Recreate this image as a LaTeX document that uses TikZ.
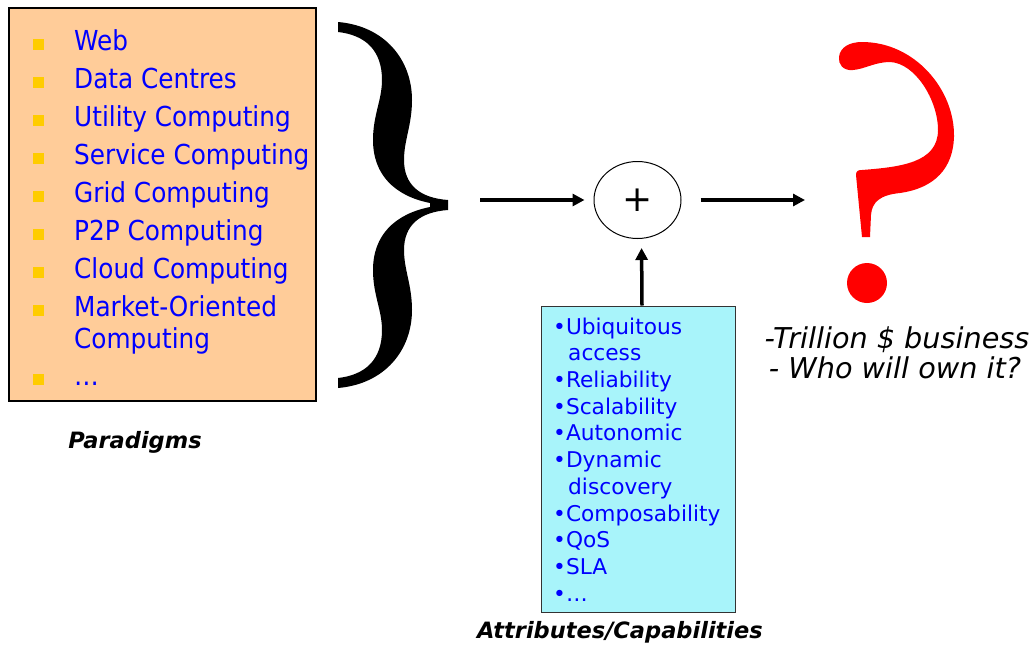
\documentclass[tikz,border=0pt]{standalone}
\usepackage{fontspec}
\usetikzlibrary{arrows.meta,shapes.geometric}
\newfontfamily\vd{DejaVu Sans}
\newfontfamily\td{DejaVu Sans}[FakeStretch=0.9]
\definecolor{peach}{RGB}{255,204,153}
\definecolor{bullety}{RGB}{255,204,0}
\definecolor{cyanbox}{RGB}{168,244,250}
\definecolor{txtblue}{RGB}{0,0,255}
\definecolor{qred}{RGB}{255,0,0}
\begin{document}
\begin{tikzpicture}[x=1pt,y=-1pt,
  listtxt/.style={anchor=base west, inner sep=0pt, text=txtblue, font=\td\fontsize{27.5}{27.5}\selectfont},
  sq/.style={fill=bullety, minimum size=11pt, inner sep=0pt},
  attrtxt/.style={anchor=base west, inner sep=0pt, text=txtblue, font=\vd\fontsize{21.7}{21.7}\selectfont},
  caption/.style={inner sep=0pt, anchor=base, font=\vd\bfseries\itshape\fontsize{22.5}{22.5}\selectfont},
  remark/.style={inner sep=0pt, anchor=base, font=\vd\itshape\fontsize{28.7}{28.7}\selectfont},
  flow/.style={line width=3.5pt, -{Triangle[length=12pt,width=12pt]}},
]
\useasboundingbox (0,0) rectangle (1036,645);
\fill[white] (0,0) rectangle (1036,645);

% Paradigms box
\node[draw=black, line width=1.2pt, fill=peach, minimum width=307pt, minimum height=393pt, inner sep=0pt] (pbox) at (162.5,204.5) {};
\foreach \y/\t [count=\i] in {50/Web, 88/Data Centres, 126/Utility Computing, 164/Service Computing, 202/Grid Computing, 240/P2P Computing, 278/Cloud Computing, 316/Market-Oriented, 385/…}{
  \node[sq] (b\i) at (38,\y-6) {};
  \node[listtxt] (l\i) at (74,\y) {\t};
}
\node[listtxt] (l8b) at (74,348) {Computing};
\node[caption] (pcap) at (135,448) {Paradigms};

% Brace
\fill[black] (338,22) .. controls (385,26) and (412,60) .. (412,100)
  .. controls (412,125) and (404,140) .. (404,160)
  .. controls (404,185) and (420,198) .. (448,200)
  -- (448,210)
  .. controls (420,212) and (404,225) .. (404,250)
  .. controls (404,270) and (412,285) .. (412,310)
  .. controls (412,350) and (385,384) .. (338,388)
  -- (338,378)
  .. controls (365,375) and (382,360) .. (382,330)
  .. controls (382,310) and (373,295) .. (373,270)
  .. controls (373,235) and (395,214) .. (430,207)
  -- (430,203)
  .. controls (395,196) and (373,175) .. (373,140)
  .. controls (373,115) and (382,100) .. (382,80)
  .. controls (382,50) and (365,35) .. (338,32)
  -- cycle;

% plus
\node[ellipse, draw, line width=1pt, minimum width=87pt, minimum height=77pt, inner sep=0pt, font=\vd\fontsize{36}{36}\selectfont] (plus) at (637.5,200) {+};

% attributes box
\node[draw=black!80, line width=1pt, fill=cyanbox, minimum width=194pt, minimum height=306pt, inner sep=0pt] (abox) at (638,459) {};
\node[attrtxt] (a1) at (553,334) {•Ubiquitous};
\node[attrtxt] (a1b) at (568,360.7) {access};
\node[attrtxt] (a2) at (553,387.4) {•Reliability};
\node[attrtxt] (a3) at (553,414) {•Scalability};
\node[attrtxt] (a4) at (553,440.8) {•Autonomic};
\node[attrtxt] (a5) at (553,467.5) {•Dynamic};
\node[attrtxt] (a5b) at (568,494) {discovery};
\node[attrtxt] (a6) at (553,521) {•Composability};
\node[attrtxt] (a7) at (553,547.6) {•QoS};
\node[attrtxt] (a8) at (553,574) {•SLA};
\node[attrtxt] (a9) at (553,601) {•…};
\node[caption] (acap) at (620,638) {Attributes/Capabilities};

% question mark
\fill[qred] (853,70) .. controls (843,71) and (838,64) .. (839,57)
  .. controls (840,47) and (850,42) .. (862,42)
  .. controls (915,42) and (955,90) .. (954,137)
  .. controls (953,168) and (935,188) .. (900,193)
  .. controls (880,195) and (872,202) .. (871,215)
  -- (870,237) -- (862,237) -- (856,175)
  .. controls (856,171) and (858,170) .. (862,170)
  .. controls (900,167) and (938,163) .. (938,130)
  .. controls (938,100) and (915,63) .. (890,62)
  .. controls (875,62) and (865,69) .. (853,70) -- cycle;
\fill[qred] (867,283) circle (20);
\node[remark] (r1) at (897,348) {-Trillion \$ business};
\node[remark] (r2) at (895,378) {- Who will own it?};

% arrows
\coordinate (a1s) at (480,200);
\coordinate (a2e) at (805,200);
\draw[flow, shorten >=9pt] (a1s) -- (plus.west);
\draw[flow, shorten <=19pt] (plus.east) -- (a2e);
\draw[flow, shorten >=9pt] ([xshift=4pt]abox.north) -- ([xshift=4pt]plus.south);
\end{tikzpicture}
\end{document}
